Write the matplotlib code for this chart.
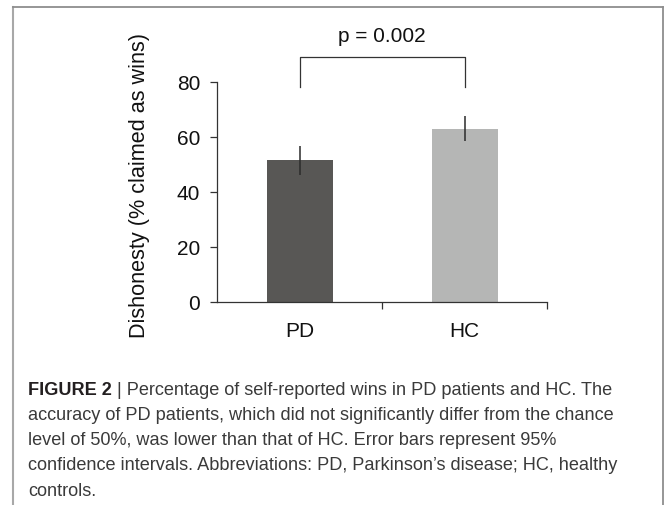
import matplotlib
matplotlib.use("Agg")
import matplotlib.pyplot as plt
from matplotlib.lines import Line2D

plt.rcParams['font.family'] = ['Liberation Sans', 'DejaVu Sans']

# data
groups = ["PD", "HC"]
means = [51.5, 63.0]
ci95 = [5.3, 4.6]
bar_colors = ["#585755", "#b5b6b5"]
p_label = "p = 0.002"
y_ticks = [0, 20, 40, 60, 80]

caption_lines = [
    " | Percentage of self-reported wins in PD patients and HC. The",
    "accuracy of PD patients, which did not significantly differ from the chance",
    "level of 50%, was lower than that of HC. Error bars represent 95%",
    "confidence intervals. Abbreviations: PD, Parkinson\u2019s disease; HC, healthy",
    "controls.",
]

W, H = 665, 506
fig = plt.figure(figsize=(W / 100, H / 100), dpi=100)

# axes placed in pixel terms
ax_l, ax_r, ax_top, ax_bot = 217, 547, 83, 303
ax = fig.add_axes([ax_l / W, 1 - ax_bot / H, (ax_r - ax_l) / W, (ax_bot - ax_top) / H])

x = list(range(len(groups)))
ax.bar(x, means, width=0.4, color=bar_colors, zorder=2)
ax.errorbar(x, means, yerr=ci95, fmt="none", ecolor="#2b2b2b", elinewidth=1.1, capsize=0, zorder=3)

ax.set_xlim(-0.5, 1.5)
ax.set_ylim(0, 80)
ax.set_yticks(y_ticks)
ax.set_xticks([0.5, 1.5])
ax.set_xticklabels([])
ax.set_xticks(x, minor=True)
ax.set_xticklabels(groups, minor=True)

for s in ["top", "right"]:
    ax.spines[s].set_visible(False)
for s in ["left", "bottom"]:
    ax.spines[s].set_color("#333333")
    ax.spines[s].set_linewidth(0.9)

fs = 15
ax.tick_params(axis="y", direction="out", length=5, width=0.9, color="#333333",
               labelsize=fs, pad=7, labelcolor="#111111")
ax.tick_params(axis="x", which="major", direction="out", length=5, width=0.9, color="#333333")
ax.tick_params(axis="x", which="minor", length=0, labelsize=fs, pad=14, labelcolor="#111111")

# significance bracket
ax.plot([0, 0, 1, 1], [78, 89, 89, 78], color="#333333", lw=0.9, clip_on=False)
ax.text(0.5, 95, p_label, ha="center", va="baseline", fontsize=fs, color="#111111")

fig.text(140 / W, 1 - 186 / H, "Dishonesty (% claimed as wins)", rotation=90,
         ha="center", va="center", fontsize=15.6, color="#111111")

# frame around the figure panel
border = "#8e8e8e"
fig.add_artist(Line2D([13 / W, 13 / W], [0, 1 - 8 / H], color="#a8a8a8", lw=1.5, transform=fig.transFigure))
fig.add_artist(Line2D([13 / W, 663 / W], [1 - 8 / H, 1 - 8 / H], color=border, lw=1.3, transform=fig.transFigure))
fig.add_artist(Line2D([663 / W, 663 / W], [0, 1 - 8 / H], color=border, lw=1.3, transform=fig.transFigure))

# caption
cap_size = 13.1
cap_color = "#3a3a3a"
baselines = [395, 420, 445.5, 470.5, 496]
head = fig.text(28 / W, 1 - baselines[0] / H, "FIGURE 2", fontsize=cap_size, fontweight="bold",
                color="#231f20", va="baseline", ha="left")
fig.canvas.draw()
bb = head.get_window_extent()
fig.text(bb.x1 / W, 1 - baselines[0] / H, caption_lines[0], fontsize=cap_size,
         color=cap_color, va="baseline", ha="left")
for line, yb in zip(caption_lines[1:], baselines[1:]):
    fig.text(28 / W, 1 - yb / H, line, fontsize=cap_size, color=cap_color, va="baseline", ha="left")

fig.savefig("out.png", dpi=100)
